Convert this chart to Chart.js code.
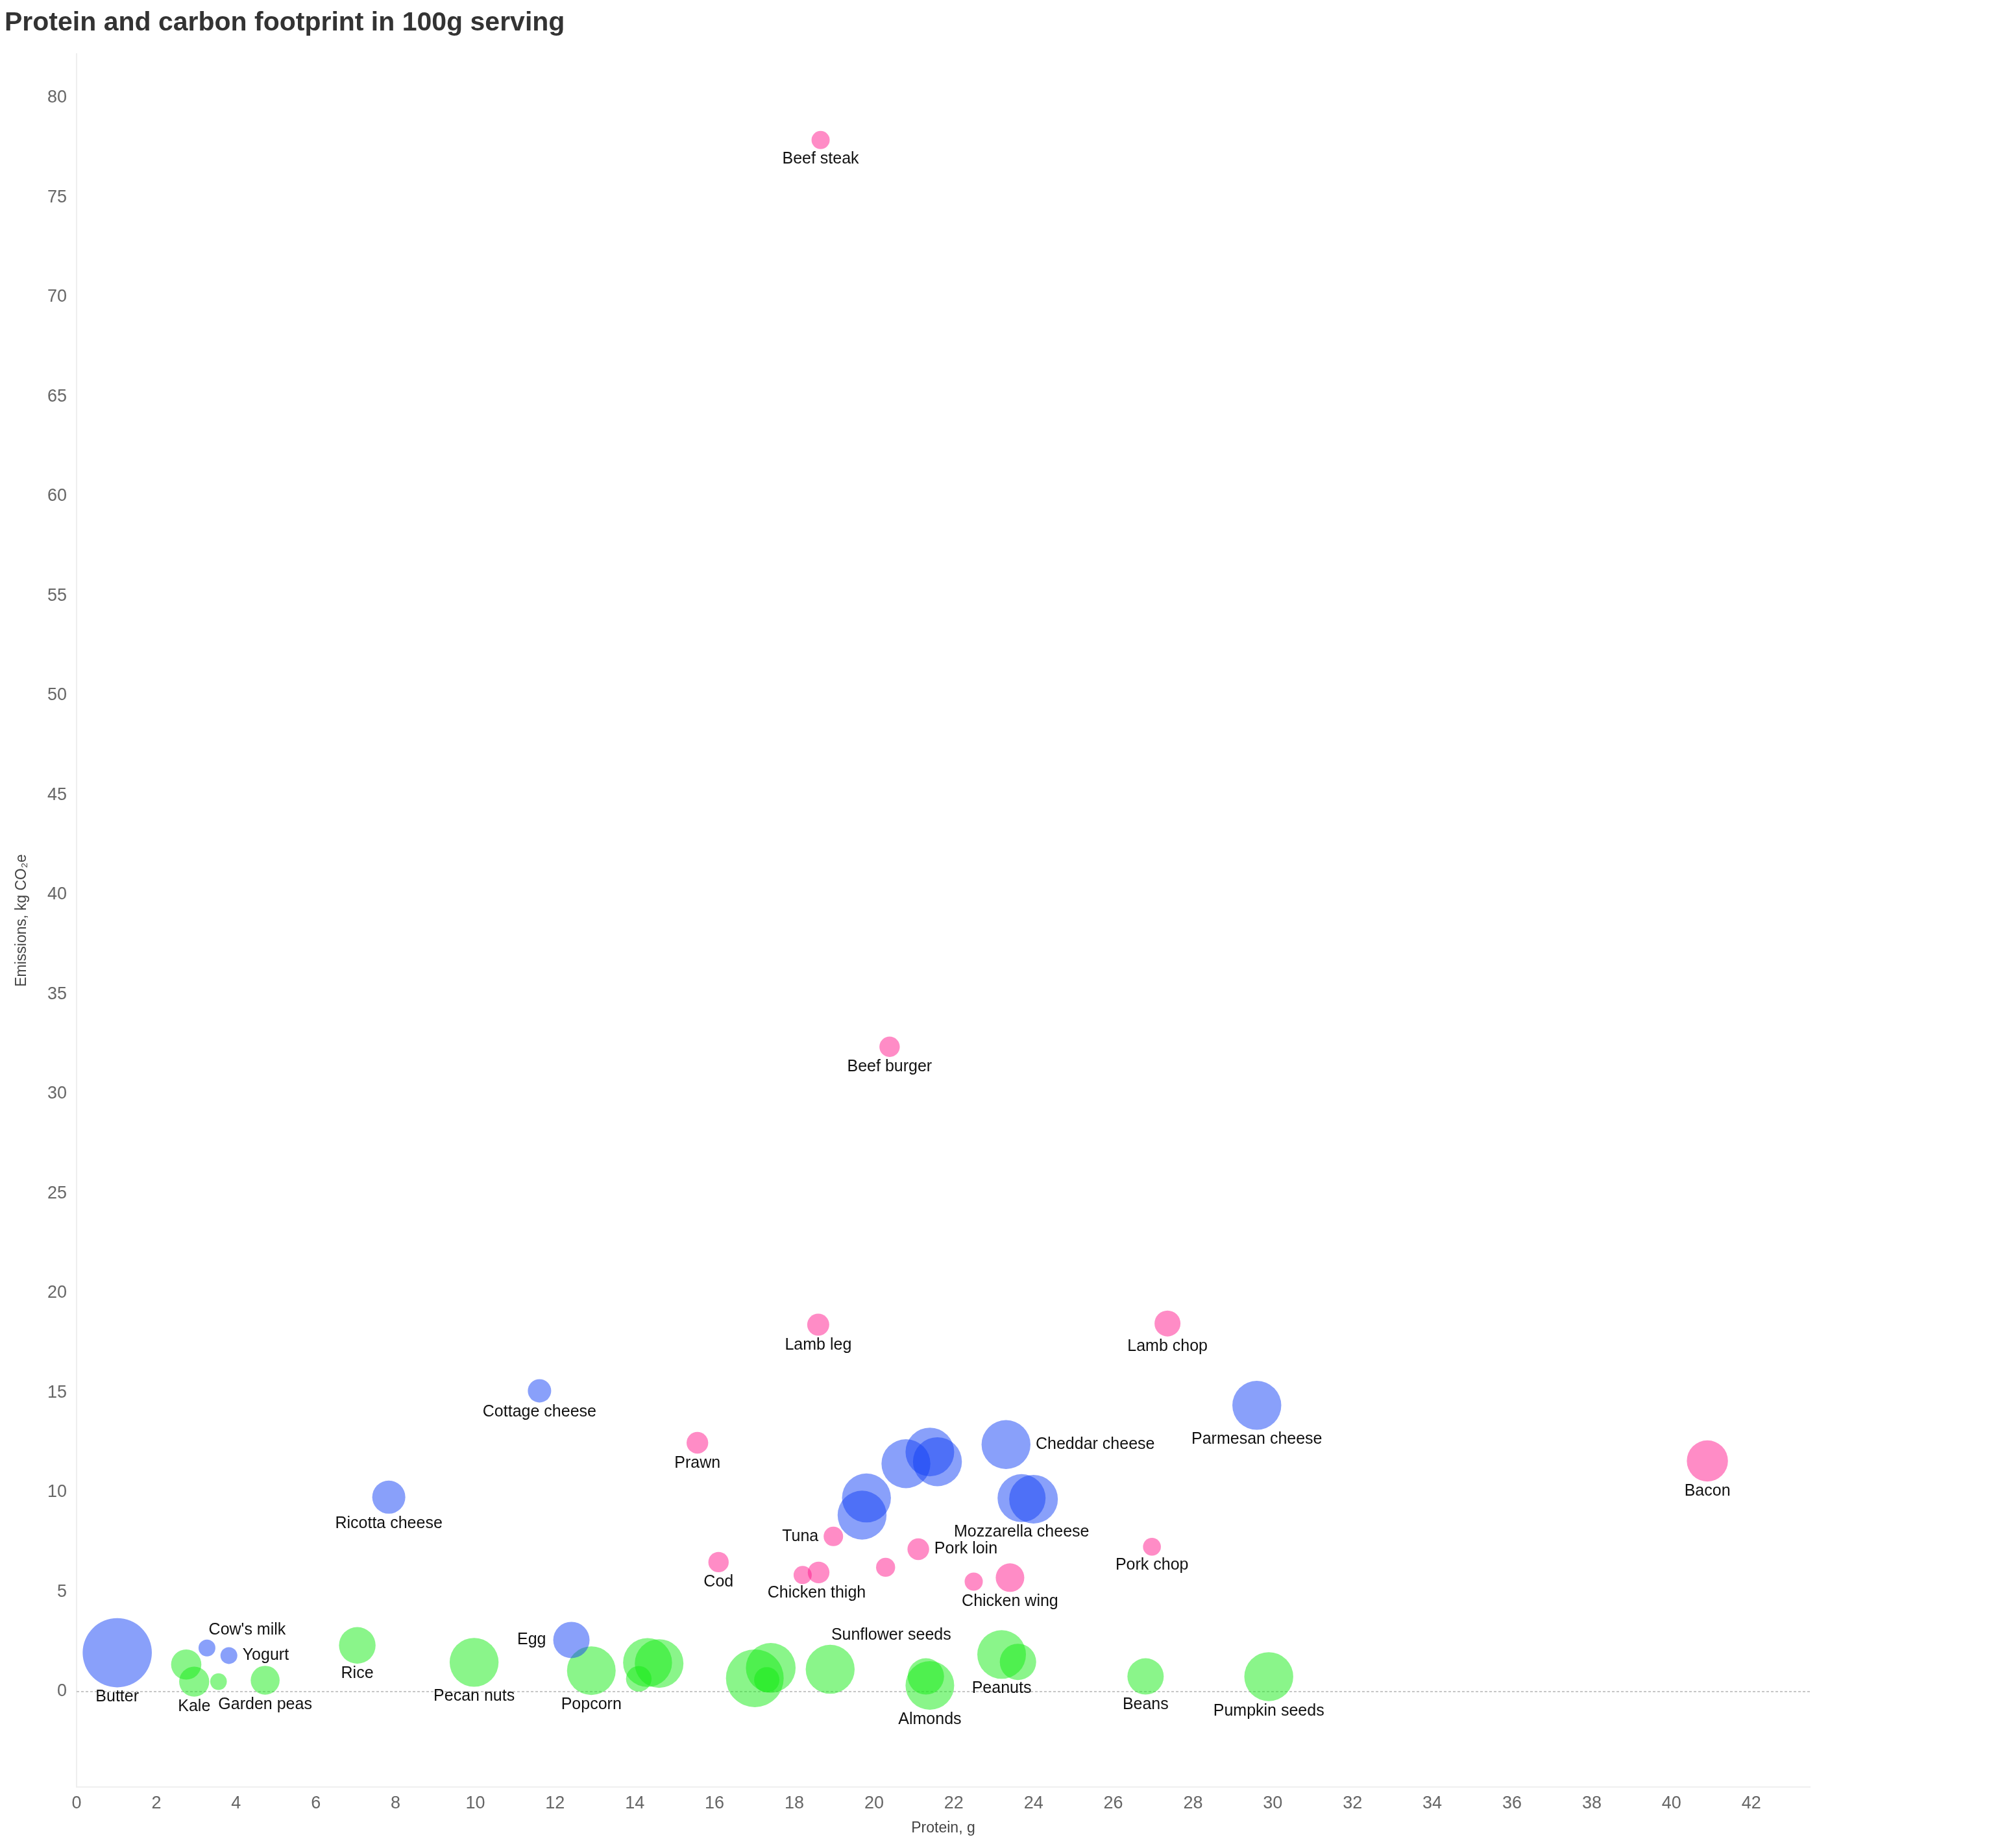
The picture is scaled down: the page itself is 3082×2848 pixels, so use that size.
<!DOCTYPE html>
<html>
<head>
<meta charset="utf-8">
<script src="https://cdn.jsdelivr.net/npm/chart.js@4.4.1/dist/chart.umd.min.js"></script>
<style>
html,body{margin:0;padding:0;background:#ffffff;}
canvas{display:block;}
</style>
</head>
<body>
<canvas id="chart" width="3082" height="2848" style="width:3082px;height:2848px"></canvas>
<script>
// ---------- DATA ----------
const chartTitle = "Protein and carbon footprint in 100g serving";
const xAxisTitle = "Protein, g";
const yAxisTitle = "Emissions, kg CO\u2082e";
const xTickValues = [0, 2, 4, 6, 8, 10, 12, 14, 16, 18, 20, 22, 24, 26, 28, 30, 32, 34, 36, 38, 40, 42];
const yTickValues = [0, 5, 10, 15, 20, 25, 30, 35, 40, 45, 50, 55, 60, 65, 70, 75, 80];

// Dairy & eggs (blue)
const dairyNames = ["Butter", "Cow's milk", "Yogurt", "Ricotta cheese", "Cottage cheese", "Egg", "", "", "", "", "", "Cheddar cheese", "Mozzarella cheese", "", "Parmesan cheese"];
const dairyProtein = [1.02, 3.27, 3.82, 7.83, 11.61, 12.41, 19.81, 19.70, 20.80, 21.40, 21.59, 23.31, 23.70, 24.00, 29.60];
const dairyEmissions = [1.95, 2.19, 1.81, 9.76, 15.10, 2.59, 9.72, 8.86, 11.44, 12.03, 11.54, 12.40, 9.71, 9.66, 14.37];
const dairySize = [53.3, 13, 13, 25.5, 18, 28, 37.7, 37.7, 37.7, 37.5, 37.7, 37.7, 37, 37.5, 37.7];

// Meat & fish (pink)
const meatNames = ["Prawn", "Cod", "", "Chicken thigh", "Lamb leg", "Beef steak", "Tuna", "", "Beef burger", "Pork loin", "", "Chicken wing", "Pork chop", "Lamb chop", "Bacon"];
const meatProtein = [15.57, 16.10, 18.21, 18.61, 18.60, 18.66, 18.98, 20.29, 20.39, 21.11, 22.50, 23.41, 26.97, 27.36, 40.90];
const meatEmissions = [12.49, 6.50, 5.85, 5.98, 18.42, 77.89, 7.79, 6.24, 32.37, 7.15, 5.52, 5.72, 7.27, 18.48, 11.58];
const meatSize = [16.7, 15.7, 14, 16.7, 17, 14, 15, 14.7, 15.7, 16.7, 14, 22, 13.8, 20, 31.7];

// Plants (green)
const plantNames = ["", "Kale", "", "Garden peas", "Rice", "Pecan nuts", "Popcorn", "", "", "", "", "", "", "Sunflower seeds", "", "Almonds", "Peanuts", "", "Beans", "Pumpkin seeds"];
const plantProtein = [2.75, 2.95, 3.56, 4.73, 7.04, 9.97, 12.91, 14.10, 14.32, 14.61, 17.01, 17.41, 17.31, 18.90, 21.30, 21.40, 23.20, 23.61, 26.81, 29.90];
const plantEmissions = [1.36, 0.50, 0.50, 0.57, 2.32, 1.47, 1.05, 0.64, 1.46, 1.41, 0.67, 1.19, 0.59, 1.12, 0.76, 0.31, 1.86, 1.49, 0.76, 0.75];
const plantSize = [23.3, 23.2, 12.8, 22.3, 28.2, 37.7, 37.5, 19.7, 37.7, 37.5, 44.5, 38.3, 19.5, 37.7, 28, 37.5, 37.5, 28, 28, 37.7];

// ---------- LABEL PLACEMENT (style, not data) ----------
// b = below, a = above, r = right, l = left
const dairyLabelPos = ["b", "a", "r", "b", "b", "l", "", "", "", "", "", "r", "b", "", "b"];
const dairyLabelDx  = [0, 62, 0, 0, 0, -3, 0, 0, 0, 0, 0, 0, 0, 0, 0];
const meatLabelPos  = ["b", "b", "", "b", "b", "b", "l", "", "b", "r", "", "b", "b", "b", "b"];
const meatLabelDx   = [0, 0, 0, -3, 0, 0, 0, 0, 0, 0, 0, 0, 0, 0, 0];
const plantLabelPos = ["", "b", "", "b", "b", "b", "b", "", "", "", "", "", "", "a", "", "b", "b", "", "b", "b"];
const plantLabelDx  = [0, 0, 0, 0, 0, 0, 0, 0, 0, 0, 0, 0, 0, 94, 0, 0, 0, 0, 0, 0];

function toPoints(xs, ys, rs) {
  return xs.map((x, i) => ({ x: x, y: ys[i], r: rs[i] }));
}

const labelFont = '25px "Liberation Sans", Arial, sans-serif';

const zeroLinePlugin = {
  id: 'zeroLine',
  beforeDatasetsDraw(chart) {
    const { ctx, chartArea, scales } = chart;
    const y0 = scales.y.getPixelForValue(0);
    ctx.save();
    ctx.strokeStyle = '#c6c6c6';
    ctx.lineWidth = 2;
    ctx.setLineDash([4, 3]);
    ctx.beginPath();
    ctx.moveTo(chartArea.left, y0);
    ctx.lineTo(chartArea.right, y0);
    ctx.stroke();
    ctx.restore();
  }
};

const pointLabelPlugin = {
  id: 'pointLabels',
  afterDatasetsDraw(chart) {
    const ctx = chart.ctx;
    ctx.save();
    ctx.font = labelFont;
    ctx.fillStyle = '#111111';
    chart.data.datasets.forEach((ds, di) => {
      const meta = chart.getDatasetMeta(di);
      ds.labels.forEach((name, i) => {
        const pos = ds.labelPos[i];
        if (!name || !pos) return;
        const el = meta.data[i];
        const r = el.options.radius;
        let x = el.x + (ds.labelDx[i] || 0), y = el.y;
        ctx.textBaseline = 'middle';
        if (pos === 'b') { ctx.textAlign = 'center'; y = el.y + r + 15; }
        else if (pos === 'a') { ctx.textAlign = 'center'; y = el.y - r - 15; }
        else if (pos === 'r') { ctx.textAlign = 'left'; x = el.x + r + 8; }
        else if (pos === 'l') { ctx.textAlign = 'right'; x = el.x - r - 8 + (ds.labelDx[i] || 0); }
        ctx.fillText(name, x, y);
      });
    });
    ctx.restore();
  }
};

const tickFont = { family: '"Liberation Sans", Arial, sans-serif', size: 27 };

new Chart(document.getElementById('chart'), {
  type: 'bubble',
  data: {
    datasets: [
      {
        label: 'Dairy and eggs',
        data: toPoints(dairyProtein, dairyEmissions, dairySize),
        labels: dairyNames, labelPos: dairyLabelPos, labelDx: dairyLabelDx,
        backgroundColor: 'rgba(20, 65, 245, 0.5)',
        borderWidth: 0
      },
      {
        label: 'Meat and fish',
        data: toPoints(meatProtein, meatEmissions, meatSize),
        labels: meatNames, labelPos: meatLabelPos, labelDx: meatLabelDx,
        backgroundColor: 'rgba(255, 25, 141, 0.5)',
        borderWidth: 0
      },
      {
        label: 'Plants',
        data: toPoints(plantProtein, plantEmissions, plantSize),
        labels: plantNames, labelPos: plantLabelPos, labelDx: plantLabelDx,
        backgroundColor: 'rgba(21, 235, 21, 0.5)',
        borderWidth: 0
      }
    ]
  },
  options: {
    responsive: false,
    devicePixelRatio: 1,
    animation: false,
    events: [],
    layout: { padding: { left: 7, right: 293, top: 0, bottom: 0 } },
    plugins: {
      legend: { display: false },
      tooltip: { enabled: false },
      title: {
        display: true,
        text: chartTitle,
        align: 'start',
        color: '#333333',
        font: { family: '"Liberation Sans", Arial, sans-serif', size: 41, weight: 'bold', lineHeight: 1.2 },
        padding: { top: 11, bottom: 23 }
      }
    },
    scales: {
      x: {
        type: 'linear',
        min: 0,
        max: 43.47,
        afterBuildTicks: (s) => { s.ticks = xTickValues.map(v => ({ value: v })); },
        afterFit: (s) => { s.height = 94; },
        grid: { display: false, drawTicks: false },
        border: { display: true, color: '#efefef', width: 2 },
        ticks: { color: '#666666', font: tickFont, padding: 9, maxRotation: 0, autoSkip: false },
        title: {
          display: true,
          text: xAxisTitle,
          color: '#444444',
          font: { family: '"Liberation Sans", Arial, sans-serif', size: 23 },
          padding: { top: 0, bottom: 17 }
        }
      },
      y: {
        type: 'linear',
        min: -4.79,
        max: 82.21,
        afterBuildTicks: (s) => { s.ticks = yTickValues.map(v => ({ value: v })); },
        afterFit: (s) => { s.width = 111; },
        grid: { display: false, drawTicks: false },
        border: { display: true, color: '#eeeeee', width: 2 },
        ticks: { color: '#666666', font: tickFont, padding: 15, autoSkip: false },
        title: {
          display: true,
          text: yAxisTitle,
          color: '#444444',
          font: { family: '"Liberation Sans", Arial, sans-serif', size: 23 },
          padding: { top: 13, bottom: 0 }
        }
      }
    }
  },
  plugins: [zeroLinePlugin, pointLabelPlugin]
});
</script>
</body>
</html>
